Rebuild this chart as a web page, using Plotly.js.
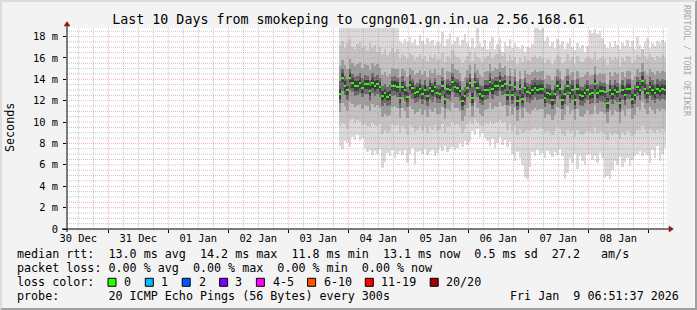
<!DOCTYPE html>
<html><head><meta charset="utf-8">
<script src="https://cdn.plot.ly/plotly-3.0.1.min.js"></script>
<style>
html,body{margin:0;padding:0;background:#f3f3f3;}
#wrap{position:relative;width:697px;height:310px;overflow:hidden;}
#chart{width:697px;height:310px;}
#frame{position:absolute;left:0;top:0;width:697px;height:310px;box-sizing:border-box;border:2px solid;border-color:#dcdcdc #a0a0a0 #a0a0a0 #dcdcdc;pointer-events:none;}
</style></head><body>
<div id="wrap"><div id="chart"></div><div id="frame"></div></div>
<script>
// ---- data (milliseconds), one row per hour (RRD consolidation step) ----
const firstRowCenter = Date.UTC(2026, 0, 3, 20, 40); // 2026-01-03 20:40
const stepMs = 3600000;

const median = [
12.6,14.16,13.35,12.97,14.16,13.66,13.35,13.35,13.63,13.2,
13.53,13.53,12.88,13.63,13.38,13.53,13.26,12.44,12.69,12.38,
12.5,13.38,13.38,13.26,12.26,13.26,12.97,12.35,13.44,13.2,
12.69,12.82,13.1,12.6,13.0,12.44,13.2,12.91,13.26,12.69,
12.63,13.38,12.16,13.1,12.97,13.75,13.26,13.2,12.88,11.95,
12.41,13.2,13.63,12.26,13.72,13.2,12.6,12.44,13.0,13.0,
13.72,13.1,13.35,13.35,13.85,13.38,13.53,12.5,13.44,12.5,
13.29,11.95,13.1,12.2,13.2,12.82,12.69,13.0,13.23,13.04,
13.1,13.1,12.26,12.69,12.6,12.07,12.6,13.35,13.1,12.07,
12.6,13.38,12.69,13.0,12.07,13.1,12.54,12.44,12.69,13.0,
12.6,12.69,13.56,12.69,12.88,12.88,12.79,11.79,13.0,12.6,
13.0,12.79,11.79,13.0,12.54,13.1,13.1,12.16,12.54,13.29,
13.0,13.85,13.1,12.69,13.29,13.0,12.69,13.1,12.91,13.1,13.0];

const maxPing = [
19.5,19.5,19.5,19.5,19.5,19.5,19.5,19.5,19.5,19.5,
19.5,19.5,19.5,19.5,19.5,19.5,19.5,19.5,19.5,19.5,
19.5,19.5,19.5,19.5,17.6,17.4,17.8,17.5,18.0,17.4,
17.8,17.2,18.1,17.6,17.3,17.9,17.5,17.7,17.2,17.5,
17.4,18.4,17.1,17.8,18.3,17.3,17.6,18.0,17.2,17.7,
18.2,17.4,17.0,17.9,16.9,19.5,17.4,17.0,17.7,16.8,
17.5,18.0,16.8,17.3,17.9,16.6,17.5,17.1,17.8,16.9,
17.4,17.0,16.8,17.2,16.6,17.0,16.9,17.3,19.5,19.5,
18.6,19.5,17.6,18.0,17.1,17.5,16.9,17.8,17.2,17.6,
16.8,17.4,17.9,17.0,16.7,17.4,16.9,17.2,16.6,17.1,
18.6,18.3,18.7,18.2,18.5,17.9,17.3,16.9,17.5,17.0,
17.6,17.2,16.8,17.4,17.1,17.7,17.0,17.6,16.8,18.0,
17.2,16.7,17.5,17.9,16.9,17.4,17.1,17.6,17.4,17.7,17.5];

const upper2 = [
17.2,17.6,16.9,17.4,17.8,17.0,16.8,17.3,17.5,16.9,
17.1,16.7,17.4,16.9,17.2,16.6,17.0,16.4,16.8,16.3,
16.6,16.9,16.5,16.8,16.0,16.4,16.2,15.9,16.5,16.3,
15.8,16.1,16.4,15.9,16.2,15.7,16.3,16.0,16.4,15.8,
15.9,16.5,15.6,16.2,16.0,16.7,16.3,16.1,15.9,15.5,
15.8,16.2,16.6,15.7,16.5,16.1,15.9,15.6,16.0,16.2,
16.6,16.0,16.3,16.4,16.8,16.2,16.5,15.7,16.3,15.8,
16.1,15.4,16.0,15.6,16.2,15.8,15.7,16.1,16.3,16.0,
16.2,16.0,15.5,15.9,15.8,15.4,15.8,16.3,16.1,15.5,
15.7,16.4,15.8,16.1,15.4,16.2,15.7,15.6,15.9,16.1,
16.0,15.9,16.6,15.8,16.0,16.1,15.9,15.3,16.1,15.8,
16.1,15.9,15.2,16.0,15.7,16.2,16.1,15.5,15.8,16.3,
16.1,16.8,16.2,15.9,16.4,16.1,15.8,16.2,16.0,16.3,16.1];

const upper3 = [
15.2,15.8,15.3,15.0,15.9,15.5,15.2,15.4,15.6,15.1,
15.4,15.3,14.9,15.5,15.2,15.4,15.1,14.4,14.7,14.3,
14.5,15.1,15.0,15.0,14.2,15.0,14.8,14.2,15.1,14.9,
14.4,14.6,14.9,14.4,14.8,14.2,14.9,14.6,15.0,14.4,
14.4,15.1,13.9,14.8,14.7,15.4,15.0,14.9,14.6,13.8,
14.2,14.9,15.3,14.1,15.4,14.9,14.4,14.2,14.7,14.8,
15.4,14.8,15.1,15.0,15.5,15.1,15.2,14.3,15.1,14.3,
15.0,13.8,14.8,14.0,14.9,14.5,14.4,14.7,14.9,14.7,
14.8,14.8,14.0,14.4,14.3,13.9,14.3,15.0,14.8,13.9,
14.3,15.0,14.4,14.7,13.9,14.8,14.2,14.2,14.4,14.7,
14.3,14.4,15.2,14.4,14.6,14.5,14.5,13.6,14.7,14.3,
14.7,14.5,13.6,14.7,14.2,14.8,14.8,13.9,14.3,15.0,
14.7,15.5,14.8,14.4,15.0,14.7,14.4,14.8,14.6,14.8,14.7];

const upper4 = [
13.8,15.0,14.3,14.0,15.0,14.5,14.2,14.3,14.6,14.1,
14.4,14.3,13.9,14.6,14.2,14.4,14.1,13.4,13.6,13.3,
13.5,14.2,14.3,14.1,13.2,14.3,13.8,13.3,14.4,14.0,
13.5,13.7,14.0,13.5,13.9,13.4,14.0,13.7,14.1,13.5,
13.5,14.2,13.1,14.0,13.8,14.6,14.1,14.0,13.8,13.0,
13.3,14.1,14.5,13.3,14.6,14.1,13.5,13.4,13.9,13.9,
14.6,14.0,14.2,14.2,14.7,14.2,14.4,13.5,14.3,13.4,
14.2,13.0,14.0,13.2,14.1,13.7,13.6,13.9,14.1,13.9,
14.0,13.9,13.2,13.6,13.5,13.0,13.5,14.2,14.0,13.0,
13.5,14.3,13.6,13.9,13.0,14.0,13.4,13.3,13.6,13.9,
13.5,13.6,14.5,13.6,13.8,13.7,13.7,12.8,13.9,13.5,
13.9,13.7,12.8,13.9,13.4,14.0,14.0,13.1,13.5,14.2,
13.9,14.7,14.0,13.6,14.2,13.9,13.6,14.0,13.8,14.0,13.9];

const lower4 = [
11.8,12.9,12.5,12.1,13.0,12.8,12.4,12.5,12.7,12.3,
12.6,12.6,12.0,12.7,12.4,12.6,12.3,11.5,11.8,11.5,
11.6,12.4,12.5,12.3,11.3,12.3,12.0,11.4,12.5,12.2,
11.8,11.9,12.2,11.7,12.1,11.5,12.2,11.9,12.3,11.8,
11.8,12.4,11.3,12.2,12.0,12.8,12.3,12.3,12.0,11.1,
11.6,12.3,12.8,11.5,12.9,12.3,11.8,11.6,12.1,12.2,
12.8,12.2,12.5,12.4,12.9,12.5,12.6,11.6,12.5,11.7,
12.4,11.1,12.2,11.4,12.3,11.9,11.8,12.1,12.3,12.1,
12.2,12.2,11.4,11.8,11.7,11.2,11.7,12.4,12.2,11.2,
11.7,12.5,11.8,12.1,11.2,12.2,11.6,11.5,11.8,12.1,
11.7,11.8,12.6,11.8,12.0,11.9,11.8,10.9,12.1,11.7,
12.1,11.9,10.9,12.1,11.6,12.2,12.2,11.3,11.7,12.4,
12.1,12.9,12.2,11.8,12.4,12.1,11.8,12.2,12.0,12.2,12.1];

const lower3 = [
10.9,11.8,11.5,11.0,11.9,11.7,11.4,11.6,11.7,11.2,
11.6,11.5,11.0,11.7,11.4,11.6,11.3,10.5,10.8,10.6,
10.7,11.4,11.5,11.3,10.4,11.3,11.0,10.4,11.5,11.2,
10.8,10.9,11.2,10.7,11.1,10.5,11.2,10.9,11.3,10.8,
10.8,11.4,10.3,11.2,11.0,11.8,11.3,11.3,11.0,10.1,
10.6,11.3,11.8,10.5,11.9,11.3,10.8,10.6,11.1,11.2,
11.8,11.2,11.5,11.4,11.9,11.5,11.6,10.6,11.5,10.7,
11.4,10.1,11.2,10.4,11.3,10.9,10.8,11.1,11.3,11.1,
11.2,11.2,10.4,10.8,10.7,10.2,10.7,11.4,11.2,10.2,
10.7,11.5,10.8,11.1,10.2,11.2,10.6,10.5,10.8,11.1,
10.7,10.8,11.6,10.8,11.0,10.9,10.8,9.9,11.1,10.7,
11.1,10.9,9.9,11.1,10.6,11.2,11.2,10.3,10.7,11.4,
11.1,11.9,11.2,10.8,11.4,11.1,10.8,11.2,11.0,11.2,11.1];

const lower2 = [
9.6,9.9,9.8,9.4,10.1,10.3,9.9,10.2,10.0,9.7,
9.8,9.6,9.5,9.9,9.7,9.6,9.8,8.9,9.3,9.0,
9.2,9.8,9.6,9.7,9.0,9.6,9.4,8.8,9.7,9.5,
9.1,9.3,9.6,9.2,9.5,9.0,9.6,9.3,9.7,9.2,
9.3,9.8,9.0,9.6,9.5,10.0,9.7,9.8,9.5,9.0,
9.4,9.8,10.1,9.8,10.3,10.0,9.7,9.6,9.9,9.8,
10.1,9.8,9.9,10.0,10.2,9.9,10.0,9.3,9.8,9.2,
9.6,8.8,9.4,9.0,9.1,9.3,9.2,9.4,9.5,9.3,
9.5,9.4,9.0,9.2,9.1,8.8,9.2,9.5,9.4,8.9,
8.7,9.3,9.0,9.2,8.6,9.3,8.9,8.8,9.0,9.2,
9.1,9.0,9.5,9.0,9.2,9.1,8.9,8.3,9.0,8.8,
9.0,8.9,8.4,9.1,8.8,9.2,9.1,8.7,8.9,9.3,
9.2,9.6,9.3,9.0,9.4,9.2,9.0,9.3,9.1,9.4,9.2];

const minPing = [
7.8,7.5,8.2,8.0,7.7,8.6,8.3,8.8,8.2,8.5,
7.6,7.2,7.4,6.9,7.3,7.0,7.5,5.7,6.3,7.1,
6.8,7.4,6.6,7.0,7.3,6.9,7.4,6.2,7.0,7.6,
6.1,7.2,7.3,7.0,7.5,6.9,7.2,7.4,6.8,7.1,
7.6,7.3,7.8,7.2,7.5,7.7,7.4,7.6,8.0,7.7,
8.2,7.9,8.1,9.2,8.8,9.4,8.6,9.0,8.5,8.2,
7.8,8.4,7.6,8.0,8.6,7.9,8.3,7.7,8.1,7.0,
6.4,7.2,6.6,6.0,4.9,4.7,5.8,7.2,6.8,7.4,
6.9,7.1,6.6,7.3,7.0,6.7,7.2,6.9,7.5,6.8,
4.7,5.2,6.6,6.2,7.0,5.6,6.8,6.4,6.0,6.9,
7.0,6.5,6.8,6.2,7.1,6.6,4.8,5.0,4.7,5.5,
6.4,6.0,6.7,5.8,6.3,6.6,5.9,6.5,6.8,7.0,
7.3,6.8,7.1,6.9,6.2,7.4,6.6,7.8,6.4,7.0,7.6];

const yTickVals = [0, 2, 4, 6, 8, 10, 12, 14, 16, 18];
const yTickText = ['0', '2 m', '4 m', '6 m', '8 m', '10 m', '12 m', '14 m', '16 m', '18 m'];

const titleText = 'Last 10 Days from smokeping to cgngn01.gn.in.ua 2.56.168.61';
const legendRtt = 'median rtt:  13.0 ms avg  14.2 ms max  11.8 ms min  13.1 ms now  0.5 ms sd  27.2   am/s';
const legendLoss = 'packet loss: 0.00 % avg  0.00 % max  0.00 % min  0.00 % now';
const legendColorLabel = 'loss color:';
const lossLabels = ['0', '1', '2', '3', '4-5', '6-10', '11-19', '20/20'];
const lossColors = ['#26ff00', '#00b8ff', '#0059ff', '#7e00ff', '#ff00ff', '#ff5500', '#ff0000', '#a10000'];
const legendProbe = 'probe:       20 ICMP Echo Pings (56 Bytes) every 300s';
const stampText = 'Fri Jan  9 06:51:37 2026';
const watermark = 'RRDTOOL / TOBI OETIKER';

// ---- sanity ----
[maxPing, upper2, upper3, upper4, lower4, lower3, lower2, minPing].forEach((a, k) => {
  if (a.length !== median.length) throw new Error('length mismatch ' + k + ': ' + a.length + ' vs ' + median.length);
});

// ---- geometry (pixels) ----
const W = 697, H = 310, L = 67, T = 28, PW = 600, PH = 201;
const px = x => (x - L) / PW;
const py = y => (T + PH - y) / PH;
const MONO = 'DejaVu Sans Mono';

const fmt = ms => new Date(ms).toISOString().slice(0, 19).replace('T', ' ');
const times = median.map((_, i) => fmt(firstRowCenter + i * stepMs));

function band(lo, hi, color) {
  return {
    type: 'bar', x: times, base: lo, y: hi.map((v, i) => v - lo[i]),
    width: stepMs, marker: {color: color, line: {width: 0}},
    hoverinfo: 'skip', showlegend: false
  };
}
function aroundMedian(half, color) {
  return {
    type: 'bar', x: times, base: median.map(v => v - half), y: median.map(() => 2 * half),
    width: stepMs, marker: {color: color, line: {width: 0}},
    hoverinfo: 'skip', showlegend: false
  };
}

const traces = [
  band(minPing, maxPing, '#dadada'),
  band(lower2, upper2, '#c3c3c3'),
  band(lower3, upper3, '#9c9c9c'),
  band(lower4, upper4, '#6a6a6a'),
  aroundMedian(0.45, '#3c3c3c'),
  aroundMedian(0.09, lossColors[0])
];

// ---- grid (drawn above the smoke, as rrdtool does) ----
const xStart = Date.UTC(2025, 11, 30, 7, 28), xEnd = Date.UTC(2026, 0, 9, 7, 28);
const shapes = [];
const minorGrid = {color: 'rgba(140,140,140,0.5)', width: 1, dash: '1px,1px'};
const majorGrid = {color: 'rgba(245,128,128,0.6)', width: 1, dash: '1px,1px'};
for (let t = Date.UTC(2025, 11, 30, 12); t < xEnd; t += 6 * 3600000) {
  const major = new Date(t).getUTCHours() === 0;
  shapes.push({type: 'line', layer: 'above', xref: 'x', yref: 'paper', x0: fmt(t), x1: fmt(t), y0: 0, y1: 1,
    line: major ? majorGrid : minorGrid});
}
for (let k = 1; k <= 37; k++) {
  const v = k * 0.5;
  const major = k % 4 === 0;
  shapes.push({type: 'line', layer: 'above', xref: 'paper', yref: 'y', x0: 0, x1: 1, y0: v, y1: v,
    line: major ? majorGrid : minorGrid});
}
// axes with arrows
shapes.push({type: 'line', layer: 'above', xref: 'paper', yref: 'paper', x0: 0, x1: 0, y0: py(T + PH + 3), y1: py(24),
  line: {color: '#000', width: 1}});
shapes.push({type: 'line', layer: 'above', xref: 'paper', yref: 'paper', x0: px(62), x1: px(671), y0: 0, y1: 0,
  line: {color: '#000', width: 1}});
const arrowCol = '#8b1a1a';
shapes.push({type: 'path', layer: 'above', xref: 'paper', yref: 'paper',
  path: `M ${px(64)} ${py(26)} L ${px(70)} ${py(26)} L ${px(67)} ${py(21.5)} Z`,
  fillcolor: arrowCol, line: {color: arrowCol, width: 0.5}});
shapes.push({type: 'path', layer: 'above', xref: 'paper', yref: 'paper',
  path: `M ${px(669)} ${py(T + PH - 3)} L ${px(669)} ${py(T + PH + 3)} L ${px(673.5)} ${py(T + PH)} Z`,
  fillcolor: arrowCol, line: {color: arrowCol, width: 0.5}});

// loss colour boxes
const boxX = [108, 145.3, 182.2, 219.6, 256.4, 307.6, 365.3, 430.2];
const labX = [123, 160.4, 197.8, 234.2, 271.6, 322.7, 380.4, 445.3];
const rowY = [254.3, 268.3, 282.3, 296.2];
boxX.forEach((bx, i) => {
  shapes.push({type: 'rect', xref: 'paper', yref: 'paper', x0: px(bx), x1: px(bx + 8), y0: py(rowY[2] - 4), y1: py(rowY[2] + 4),
    fillcolor: lossColors[i], line: {color: '#000', width: 1}});
});

const nb = s => s.replace(/ /g, '\u00a0');
const txt = (text, x, y, opt) => Object.assign({
  text: nb(text), xref: 'paper', yref: 'paper', x: px(x), y: py(y), xanchor: 'left', yanchor: 'middle',
  showarrow: false, borderpad: 0, font: {family: MONO, size: 11.7, color: '#000'}
}, opt || {});

const annotations = [
  txt(legendRtt, 16, rowY[0]),
  txt(legendLoss, 16, rowY[1]),
  txt(legendColorLabel, 16, rowY[2]),
  txt(legendProbe, 16, rowY[3]),
  txt(stampText, 680, rowY[3], {xanchor: 'right'}),
  txt('Seconds', 10, 128, {xanchor: 'center', textangle: -90}),
  txt(watermark, 687, 61, {xanchor: 'center', textangle: 90, font: {family: MONO, size: 8.4, color: '#a8a8a8'}})
];
lossLabels.forEach((lab, i) => annotations.push(txt(lab, labX[i], rowY[2])));

const layout = {
  width: W, height: H,
  margin: {l: L, r: W - L - PW, t: T, b: H - T - PH, pad: 0},
  paper_bgcolor: '#f3f3f3', plot_bgcolor: '#ffffff',
  barmode: 'overlay', bargap: 0,
  showlegend: false,
  title: {text: nb(titleText), font: {family: MONO, size: 13.3, color: '#000'},
    x: 0.5, xref: 'container', xanchor: 'center', y: 1 - 19 / H, yref: 'container', yanchor: 'middle'},
  xaxis: {
    type: 'date', range: [fmt(xStart), fmt(xEnd)],
    dtick: 86400000, tick0: '2025-12-31', tickformat: '%d %b', ticklabelmode: 'period',
    showgrid: false, zeroline: false, showline: false,
    ticks: 'outside', ticklen: 3, tickcolor: '#000', ticklabelstandoff: -3,
    tickfont: {family: MONO, size: 10.4, color: '#000'}, fixedrange: true
  },
  yaxis: {
    range: [0, 18.8], tickvals: yTickVals, ticktext: yTickText,
    showgrid: false, zeroline: false, showline: false,
    ticks: 'outside', ticklen: 3, tickcolor: '#000', ticklabelstandoff: 3,
    tickfont: {family: MONO, size: 10.4, color: '#000'}, fixedrange: true
  },
  shapes: shapes,
  annotations: annotations
};

Plotly.newPlot('chart', traces, layout, {staticPlot: true, displayModeBar: false});
</script>
</body></html>
